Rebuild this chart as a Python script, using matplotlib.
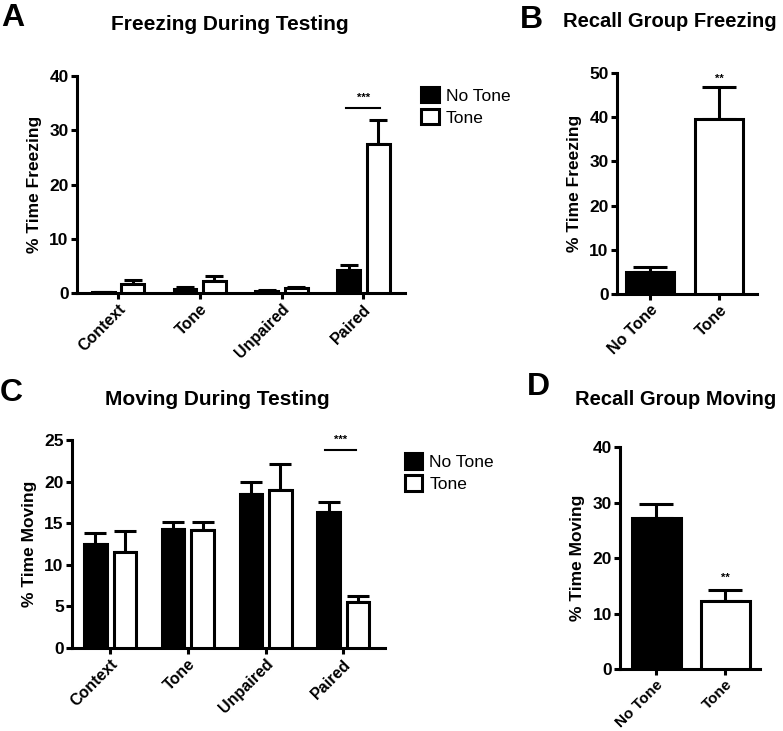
import matplotlib
matplotlib.use("Agg")
from matplotlib import pyplot as plt
from matplotlib.patches import Patch
import numpy as np

plt.rcParams["font.family"] = ["Liberation Sans", "DejaVu Sans"]

FIGSIZE = (783, 731)
DPI = 100

# data
groups = ["Context", "Tone", "Unpaired", "Paired"]
freeze_notone = [0.2, 0.8, 0.4, 4.3]
freeze_notone_err = [0.1, 0.3, 0.1, 0.8]
freeze_tone = [1.6, 2.3, 1.0, 27.5]
freeze_tone_err = [0.9, 0.8, 0.2, 4.4]

recall_labels = ["No Tone", "Tone"]
recall_freeze = [5.0, 39.5]
recall_freeze_err = [1.1, 7.3]

move_notone = [12.5, 14.3, 18.5, 16.4]
move_notone_err = [1.3, 0.8, 1.4, 1.2]
move_tone = [11.5, 14.2, 19.0, 5.5]
move_tone_err = [2.6, 0.9, 3.1, 0.8]

recall_move = [27.3, 12.2]
recall_move_err = [2.5, 2.0]

LW = 2.2


def style_axes(ax, ymax, ystep, ylabel):
    for side in ["top", "right"]:
        ax.spines[side].set_visible(False)
    for side in ["left", "bottom"]:
        ax.spines[side].set_linewidth(LW)
    ax.set_ylim(0, ymax)
    ax.set_yticks(np.arange(0, ymax + 0.1, ystep))
    ax.tick_params(axis="y", width=LW, length=4, labelsize=12.5, pad=2)
    ax.tick_params(axis="x", width=LW, length=4, pad=2)
    for lab in ax.get_yticklabels():
        lab.set_fontweight("bold")
    ax.set_ylabel(ylabel, fontsize=12.5, fontweight="bold", labelpad=5)


def set_xlabels(ax, labels, size=11.5):
    ax.set_xticks(range(len(labels)))
    ax.set_xticklabels(labels, rotation=45, ha="right", rotation_mode="anchor",
                       fontsize=size, fontweight="bold")


def grouped(ax, a, a_err, b, b_err, width, off, capsize):
    x = np.arange(len(a))
    ax.bar(x - off, a, width, color="black", edgecolor="black", linewidth=LW, zorder=3)
    ax.bar(x + off, b, width, color="white", edgecolor="black", linewidth=LW, zorder=3)
    ax.errorbar(x - off, a, yerr=[np.zeros(len(a)), a_err], fmt="none", ecolor="black",
                elinewidth=LW, capsize=capsize, capthick=LW, zorder=2)
    ax.errorbar(x + off, b, yerr=[np.zeros(len(b)), b_err], fmt="none", ecolor="black",
                elinewidth=LW, capsize=capsize, capthick=LW, zorder=2)


def single(ax, vals, errs, width, capsize):
    x = np.arange(len(vals))
    ax.bar(x, vals, width, color=["black", "white"], edgecolor="black", linewidth=LW, zorder=3)
    ax.errorbar(x, vals, yerr=[np.zeros(len(vals)), errs], fmt="none", ecolor="black",
                elinewidth=LW, capsize=capsize, capthick=LW, zorder=2)


fig = plt.figure(figsize=(FIGSIZE[0] / DPI, FIGSIZE[1] / DPI), dpi=DPI)

handles = [Patch(facecolor="black", edgecolor="black", linewidth=LW, label="No Tone"),
           Patch(facecolor="white", edgecolor="black", linewidth=LW, label="Tone")]
leg_kw = dict(loc="upper left", frameon=False, fontsize=12.5, handlelength=1.0,
              handleheight=1.0, handletextpad=0.4, borderpad=0, labelspacing=0.3)

# A
axA = fig.add_axes([0.0983, 0.599, 0.419, 0.297])
grouped(axA, freeze_notone, freeze_notone_err, freeze_tone, freeze_tone_err, 0.28, 0.18, 6.5)
axA.set_xlim(-0.5, 3.51)
style_axes(axA, 40, 10, "% Time Freezing")
set_xlabels(axA, groups)
axA.plot([2.79, 3.2], [34.1, 34.1], color="black", lw=1.5)
axA.text(3.0, 35.0, "***", ha="center", va="bottom", fontsize=8, fontweight="bold")
fig.legend(handles=handles, bbox_to_anchor=(0.527, 0.893), **leg_kw)

# B
axB = fig.add_axes([0.788, 0.598, 0.179, 0.302])
single(axB, recall_freeze, recall_freeze_err, 0.7, 12)
axB.set_xlim(-0.48, 1.55)
style_axes(axB, 50, 10, "% Time Freezing")
set_xlabels(axB, recall_labels)
axB.text(1, 47.5, "**", ha="center", va="bottom", fontsize=8, fontweight="bold")

# C
axC = fig.add_axes([0.092, 0.1135, 0.40, 0.2845])
grouped(axC, move_notone, move_notone_err, move_tone, move_tone_err, 0.29, 0.19, 8)
axC.set_xlim(-0.49, 3.54)
style_axes(axC, 25, 5, "% Time Moving")
set_xlabels(axC, groups)
axC.plot([2.76, 3.17], [23.8, 23.8], color="black", lw=1.5)
axC.text(2.97, 24.4, "***", ha="center", va="bottom", fontsize=8, fontweight="bold")
fig.legend(handles=handles, bbox_to_anchor=(0.506, 0.392), **leg_kw)

# D
axD = fig.add_axes([0.792, 0.0845, 0.179, 0.304])
single(axD, recall_move, recall_move_err, 0.71, 12)
axD.set_xlim(-0.52, 1.51)
style_axes(axD, 40, 10, "% Time Moving")
set_xlabels(axD, recall_labels, size=11)
axD.text(1, 15.6, "**", ha="center", va="bottom", fontsize=8, fontweight="bold")

# titles and panel letters
title_kw = dict(ha="center", va="center", fontsize=15, fontweight="bold")
fig.text(0.294, 0.966, "Freezing During Testing", **title_kw)
fig.text(0.277, 0.453, "Moving During Testing", **title_kw)
title_kw["fontsize"] = 14.5
fig.text(0.856, 0.970, "Recall Group Freezing", **title_kw)
fig.text(0.863, 0.454, "Recall Group Moving", **title_kw)
letter_kw = dict(ha="left", va="center", fontsize=23, fontweight="bold")
fig.text(0.002, 0.975, "A", **letter_kw)
fig.text(0.664, 0.973, "B", **letter_kw)
fig.text(0.0, 0.462, "C", **letter_kw)
fig.text(0.673, 0.471, "D", **letter_kw)

fig.savefig("out.png", dpi=DPI)
